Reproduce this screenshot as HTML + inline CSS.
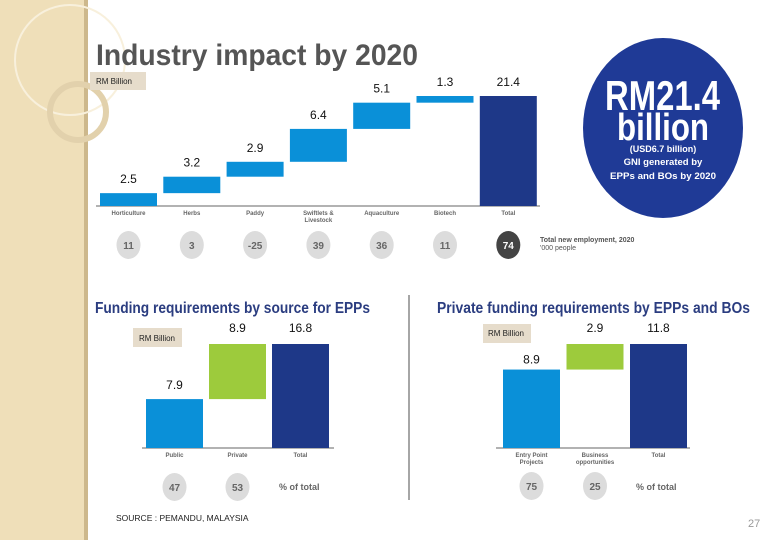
<!DOCTYPE html>
<html><head><meta charset="utf-8"><style>
html,body{margin:0;padding:0;background:#fff}
svg{display:block;font-family:"Liberation Sans",sans-serif}
</style></head><body>
<svg id="s" width="780" height="540" viewBox="0 0 780 540">
<rect x="0" y="0" width="84" height="540" fill="#efdfb9"/>
<rect x="84" y="0" width="4" height="540" fill="#cdb88c"/>
<circle cx="70" cy="60" r="55" fill="none" stroke="#f8f0dc" stroke-width="2"/>
<circle cx="78" cy="112" r="28" fill="none" stroke="#e2d1ac" stroke-width="6"/>
<text x="96" y="65" font-size="30" font-weight="bold" fill="#555" textLength="322" lengthAdjust="spacingAndGlyphs">Industry impact by 2020</text>
<rect x="90" y="72" width="56" height="18" fill="#e6dccb"/>
<text x="96" y="84" font-size="8" fill="#222">RM Billion</text>
<line x1="96" y1="206" x2="540" y2="206" stroke="#999" stroke-width="1.5"/>
<ellipse cx="663" cy="128" rx="80" ry="90" fill="#1f3a96"/>
<text x="605" y="110" font-size="42" font-weight="bold" fill="#fff" textLength="115" lengthAdjust="spacingAndGlyphs">RM21.4</text>
<text x="617" y="140" font-size="38" font-weight="bold" fill="#fff" textLength="92" lengthAdjust="spacingAndGlyphs">billion</text>
<text x="663" y="152" font-size="9" font-weight="bold" fill="#fff" text-anchor="middle">(USD6.7 billion)</text>
<text x="663" y="165" font-size="9.5" font-weight="bold" fill="#fff" text-anchor="middle">GNI generated by</text>
<text x="663" y="179" font-size="9.5" font-weight="bold" fill="#fff" text-anchor="middle" textLength="106" lengthAdjust="spacingAndGlyphs">EPPs and BOs by 2020</text>
<text x="540" y="242" font-size="7" font-weight="bold" fill="#555">Total new employment, 2020</text>
<text x="540" y="250" font-size="7" fill="#555">'000 people</text>
<line x1="409" y1="295" x2="409" y2="500" stroke="#888" stroke-width="1.5"/>
<text x="95" y="313" font-size="16" font-weight="bold" fill="#2b3d80" textLength="275" lengthAdjust="spacingAndGlyphs">Funding requirements by source for EPPs</text>
<text x="437" y="313" font-size="16" font-weight="bold" fill="#2b3d80" textLength="313" lengthAdjust="spacingAndGlyphs">Private funding requirements by EPPs and BOs</text>
<rect x="133" y="328" width="49" height="19" fill="#e6dccb"/>
<text x="139" y="341" font-size="8" fill="#222">RM Billion</text>
<rect x="483" y="324" width="48" height="19" fill="#e6dccb"/>
<text x="488" y="336" font-size="8" fill="#222">RM Billion</text>
<line x1="142" y1="448" x2="334" y2="448" stroke="#999" stroke-width="1.5"/>
<line x1="496" y1="448" x2="690" y2="448" stroke="#999" stroke-width="1.5"/>
<text x="279" y="490" font-size="9" font-weight="bold" fill="#666">% of total</text>
<text x="636" y="490" font-size="9" font-weight="bold" fill="#666">% of total</text>
<text x="116" y="521" font-size="8.5" fill="#222">SOURCE : PEMANDU, MALAYSIA</text>
<text x="748" y="527" font-size="11" fill="#999">27</text>
</svg>
<script>
const cats1 = ["Horticulture","Herbs","Paddy","Swiftlets &|Livestock","Aquaculture","Biotech","Total"];
const vals1 = [2.5,3.2,2.9,6.4,5.1,1.3,21.4];
const emp1 = ["11","3","-25","39","36","11","74"];
const cats2 = ["Public","Private","Total"];
const vals2 = [7.9,8.9,16.8];
const pct2 = ["47","53"];
const cats3 = ["Entry Point|Projects","Business|opportunities","Total"];
const vals3 = [8.9,2.9,11.8];
const pct3 = ["75","25"];

const svg = document.getElementById('s');
const NS = 'http://www.w3.org/2000/svg';
function mk(tag, attrs){const e=document.createElementNS(NS,tag);for(const k in attrs)e.setAttribute(k,attrs[k]);svg.appendChild(e);return e;}

function waterfall(cats, vals, o){
  const maxV = Math.max(...vals);
  const y = v => o.base - v/maxV*o.h;
  let cum = 0;
  cats.forEach((c,i)=>{
    const isTotal = i===cats.length-1;
    const lo = isTotal?0:cum, hi = isTotal?vals[i]:cum+vals[i];
    if(!isTotal) cum += vals[i];
    const x = o.x0 + i*o.step;
    const r = mk('rect',{x:x,y:y(hi),width:o.w,height:y(lo)-y(hi),fill:isTotal?'#1e3888':(o.colors[i]||'#0a90d8')});
    
    
    const t = mk('text',{x:x+o.w/2,y:y(hi)-o.lblOff[i],'font-size':12,'text-anchor':'middle',fill:'#111'});
    t.textContent = vals[i];
    
    
    c.split('|').forEach((ln,j)=>{
      const ct = mk('text',{x:x+o.w/2,y:o.base+9+j*7,'font-size':6,'font-weight':'bold','text-anchor':'middle',fill:'#666'});
      ct.textContent = ln;
      
      
    });
    if(o.circ[i]!==undefined){
      const dark = o.id==='1' && isTotal;
      const cc = mk('ellipse',{cx:x+o.w/2,cy:o.cy,rx:12,ry:14,fill:dark?'#444':'#dcdcdc'});
      
      
      const ctt = mk('text',{x:x+o.w/2,y:o.cy+4,'font-size':10,'font-weight':'bold','text-anchor':'middle',fill:dark?'#fff':'#666'});
      ctt.textContent = o.circ[i];
      
      
    }
  });
}
waterfall(cats1, vals1, {id:'1',x0:100,step:63.3,w:57,base:206,h:110,colors:[],lblOff:[10,10,10,10,10,10,10],circ:emp1,cy:245});
waterfall(cats2, vals2, {id:'2',x0:146,step:63,w:57,base:448,h:104,colors:['#0a90d8','#9dcb3c'],lblOff:[10,12,12],circ:pct2,cy:487});
waterfall(cats3, vals3, {id:'3',x0:503,step:63.5,w:57,base:448,h:104,colors:['#0a90d8','#9dcb3c'],lblOff:[6,12,12],circ:pct3,cy:486});
</script>
</body></html>
